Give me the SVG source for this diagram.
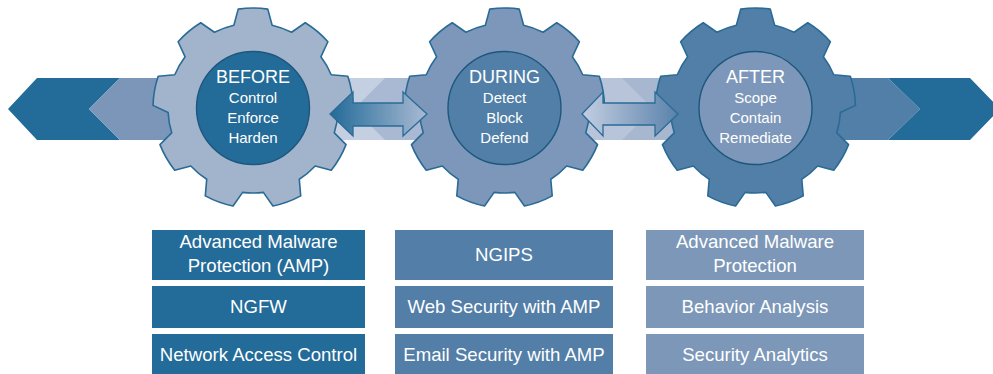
<svg xmlns="http://www.w3.org/2000/svg" width="993" height="374" viewBox="0 0 993 374">
<style>
.gear{stroke:#2a6b96;stroke-width:1.6;stroke-linejoin:round}
.hub{stroke:#1d577d;stroke-width:1.4}
.t{font-family:"Liberation Sans",Arial,sans-serif;fill:#ffffff;text-anchor:middle}
.ttl{font-size:18px}
.sub{font-size:15px}
.bx{font-size:18.6px}
.arrow{stroke:#2a6b96;stroke-width:1.3;stroke-linejoin:miter}
</style>
<defs>
<path id="gearShape" d="M -19.13,-82.82 L -14.78,-98.90 A 100 100 0 0 1 14.78,-98.90 L 19.13,-82.82 A 85 85 0 0 1 38.59,-75.74 L 52.25,-85.26 A 100 100 0 0 1 74.90,-66.26 L 67.88,-51.15 A 85 85 0 0 1 78.24,-33.21 L 94.83,-31.73 A 100 100 0 0 1 99.97,-2.62 L 84.88,4.45 A 85 85 0 0 1 81.29,24.85 L 93.04,36.65 A 100 100 0 0 1 78.26,62.25 L 62.17,57.97 A 85 85 0 0 1 46.29,71.29 L 47.72,87.88 A 100 100 0 0 1 19.94,97.99 L 10.36,84.36 A 85 85 0 0 1 -10.36,84.36 L -19.94,97.99 A 100 100 0 0 1 -47.72,87.88 L -46.29,71.29 A 85 85 0 0 1 -62.17,57.97 L -78.26,62.25 A 100 100 0 0 1 -93.04,36.65 L -81.29,24.85 A 85 85 0 0 1 -84.88,4.45 L -99.97,-2.62 A 100 100 0 0 1 -94.83,-31.73 L -78.24,-33.21 A 85 85 0 0 1 -67.88,-51.15 L -74.90,-66.26 A 100 100 0 0 1 -52.25,-85.26 L -38.59,-75.74 A 85 85 0 0 1 -19.13,-82.82 Z"/>
<linearGradient id="g1" x1="0" y1="0" x2="1" y2="0">
<stop offset="0" stop-color="#236b98"/>
<stop offset="1" stop-color="#a9bad3"/>
</linearGradient>
<linearGradient id="g2" x1="0" y1="0" x2="1" y2="0">
<stop offset="0" stop-color="#c3cee1"/>
<stop offset="1" stop-color="#5a82ab"/>
</linearGradient>
</defs>

<g id="bands">
<polygon points="8,109 37,78 120,78 89,109 120,140 37,140" fill="#236b98"/>
<polygon points="89,109 120,78 200,78 200,140 120,140" fill="#7b96b8"/>
<rect x="330" y="78" width="100" height="62" fill="#c4cfe1"/>
<polygon points="354,109 385,78 430,78 430,140 385,140" fill="#a9b9d3"/>
<rect x="580" y="78" width="100" height="62" fill="#a7b7d0"/>
<polygon points="580,78 622,78 653,109 622,140 580,140" fill="#b7c4da"/>
<polygon points="810,78 888,78 920,109 888,140 810,140" fill="#527fa8"/>
<polygon points="888,78 970,78 1000,109 970,140 888,140 920,109" fill="#236b98"/>
</g>

<g id="gear-before">
<use href="#gearShape" transform="translate(253,108)" class="gear" fill="#a2b3cc"/>
<circle cx="253" cy="108" r="56.5" class="hub" fill="#236b98"/>
<text class="t ttl" x="253" y="83">BEFORE</text>
<text class="t sub" x="253" y="103">Control</text>
<text class="t sub" x="253" y="123">Enforce</text>
<text class="t sub" x="253" y="143">Harden</text>
</g>

<g id="gear-during">
<use href="#gearShape" transform="translate(504.5,108)" class="gear" fill="#7c97b9"/>
<circle cx="504.5" cy="108" r="56.5" class="hub" fill="#527fa8"/>
<text class="t ttl" x="504.5" y="83">DURING</text>
<text class="t sub" x="504.5" y="103">Detect</text>
<text class="t sub" x="504.5" y="123">Block</text>
<text class="t sub" x="504.5" y="143">Defend</text>
</g>

<g id="gear-after">
<use href="#gearShape" transform="translate(755.5,108)" class="gear" fill="#527fa8"/>
<circle cx="755.5" cy="108" r="56.5" class="hub" fill="#7c97b9"/>
<text class="t ttl" x="755.5" y="83">AFTER</text>
<text class="t sub" x="755.5" y="103">Scope</text>
<text class="t sub" x="755.5" y="123">Contain</text>
<text class="t sub" x="755.5" y="143">Remediate</text>
</g>

<g id="connectors">
<polygon class="arrow" fill="url(#g1)" points="330,114 353,92 353,103 403,103 403,92 427,114 403,136 403,126 353,126 353,136"/>
<polygon class="arrow" fill="url(#g2)" points="582,114 603,92 603,103 655,103 655,92 678,114 655,136 655,125 603,125 603,136"/>
</g>

<g id="box-amp">
<rect x="152" y="230" width="213" height="50" fill="#236b98"/>
<text class="t bx" x="258.5" y="248">Advanced Malware</text>
<text class="t bx" x="258.5" y="272">Protection (AMP)</text>
</g>
<g id="box-ngfw">
<rect x="152" y="286" width="213" height="42" fill="#236b98"/>
<text class="t bx" x="258.5" y="313">NGFW</text>
</g>
<g id="box-nac">
<rect x="152" y="334" width="213" height="40" fill="#236b98"/>
<text class="t bx" x="258.5" y="361">Network Access Control</text>
</g>

<g id="box-ngips">
<rect x="395" y="230" width="218" height="50" fill="#527ea7"/>
<text class="t bx" x="504" y="261">NGIPS</text>
</g>
<g id="box-web">
<rect x="395" y="286" width="218" height="42" fill="#527ea7"/>
<text class="t bx" x="504" y="313">Web Security with AMP</text>
</g>
<g id="box-email">
<rect x="395" y="334" width="218" height="40" fill="#527ea7"/>
<text class="t bx" x="504" y="361">Email Security with AMP</text>
</g>

<g id="box-amp2">
<rect x="646" y="230" width="218" height="50" fill="#7c97b8"/>
<text class="t bx" x="755" y="248">Advanced Malware</text>
<text class="t bx" x="755" y="272">Protection</text>
</g>
<g id="box-behavior">
<rect x="646" y="286" width="218" height="42" fill="#7c97b8"/>
<text class="t bx" x="755" y="313">Behavior Analysis</text>
</g>
<g id="box-analytics">
<rect x="646" y="334" width="218" height="40" fill="#7c97b8"/>
<text class="t bx" x="755" y="361">Security Analytics</text>
</g>
</svg>
